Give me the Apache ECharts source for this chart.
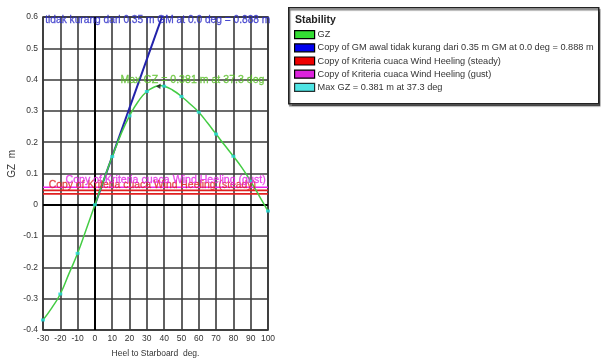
<!DOCTYPE html>
<html>
<head>
<meta charset="utf-8">
<script src="https://cdn.jsdelivr.net/npm/echarts@6/dist/echarts.min.js"></script>
<style>html,body{margin:0;padding:0;background:#fff;}#c{width:601px;height:363px;}</style>
</head>
<body>
<div id="c"></div>
<script>
// ---- data ----
var heel = [-30,-25,-20,-15,-10,-5,0,5,10,15,20,25,30,35,37.3,40,45,50,55,60,65,70,75,80,85,90,95,100];
var gz   = [-0.368,-0.33,-0.285,-0.22,-0.155,-0.078,0,0.078,0.154,0.225,0.284,0.33,0.362,0.378,0.381,0.379,0.366,0.346,0.322,0.296,0.262,0.226,0.19,0.155,0.118,0.075,0.028,-0.02];
var markerHeel = [-30,-20,-10,0,10,20,30,40,50,60,70,80,90,100];
var gmLineHeel = [0, 57.3];
var gmLineGz = [0, 0.888];
var heelRange = [-30, 100];
var steadyLevels = [0.046, 0.035];
var gustLevel = 0.056;
var maxGz = [37.3, 0.381];
var names = [
  'GZ',
  'Copy of GM awal tidak kurang dari 0.35 m GM at 0.0 deg = 0.888 m',
  'Copy of Kriteria cuaca Wind Heeling (steady)',
  'Copy of Kriteria cuaca Wind Heeling (gust)',
  'Max GZ = 0.381 m at 37.3 deg'
];
var gmText = 'tidak kurang dari 0.35 m GM at 0.0 deg = 0.888 m';
var xTicks = {min:-30, max:100, interval:10};
var yTicks = {min:-0.4, max:0.6, interval:0.1};

// ---- build ----
var font = 'Liberation Sans, Arial, sans-serif';
function pairs(xs, ys){ return xs.map(function(x,i){ return [x, ys[i]]; }); }
var gzData = pairs(heel, gz);
var markerData = markerHeel.map(function(h){ return [h, gz[heel.indexOf(h)]]; });
function hline(v){ return heelRange.map(function(h){ return [h, v]; }); }

function note(coord, text, color, size){
  return {value: coord, label:{show:true, position:'right', distance:0, formatter:text, color:color, fontSize:size, fontFamily:font,
    textBorderColor:color, textBorderWidth:0.3}};
}

var chart = echarts.init(document.getElementById('c'), null, {renderer:'canvas'});
chart.setOption({
  animation:false,
  backgroundColor:'#fff',
  grid:{left:43, right:333, top:17, bottom:30, show:true, borderColor:'#222', borderWidth:1.5, containLabel:false},
  xAxis:{type:'value', min:xTicks.min, max:xTicks.max, interval:xTicks.interval,
    name:'Heel to Starboard  deg.', nameLocation:'middle', nameGap:19,
    nameTextStyle:{fontSize:8.5, color:'#333', fontFamily:font},
    axisLine:{show:false}, axisTick:{show:false},
    axisLabel:{fontSize:8.5, color:'#333', margin:4, fontFamily:font},
    splitLine:{show:true, lineStyle:{color:'#3a3a3a', width:1.6}}},
  yAxis:{type:'value', min:yTicks.min, max:yTicks.max, interval:yTicks.interval,
    axisLine:{show:false}, axisTick:{show:false},
    axisLabel:{fontSize:8.5, color:'#333', margin:5, fontFamily:font,
      formatter:function(v){ return (Math.round(v*10)/10).toString(); }},
    splitLine:{show:true, lineStyle:{color:'#3a3a3a', width:1.6}}},
  legend:{orient:'vertical', left:294, top:30, padding:0, icon:'rect', itemWidth:20, itemHeight:8, itemGap:4,
    itemStyle:{borderColor:'#000', borderWidth:1.2},
    textStyle:{fontSize:9.2, color:'#333', fontFamily:font, padding:[0,0,0,-2]},
    selectedMode:false,
    data:[
      {name:names[0], itemStyle:{color:'#33dd33'}},
      {name:names[1], itemStyle:{color:'#0000ee'}},
      {name:names[2], itemStyle:{color:'#ee0000'}},
      {name:names[3], itemStyle:{color:'#dd22dd'}},
      {name:names[4], itemStyle:{color:'#22dddd'}}
    ]},
  graphic:[
    {type:'rect', left:288, top:7, z:-1, shape:{width:310, height:96},
      style:{fill:'#fff', stroke:'#222', lineWidth:1.5, shadowColor:'rgba(0,0,0,0.5)', shadowOffsetX:1, shadowOffsetY:2, shadowBlur:1}},
    {type:'text', left:295, top:15, style:{text:'Stability', font:'bold 10.5px '+font, fill:'#222'}},
    {type:'text', left:7, top:150, rotation:Math.PI/2, style:{text:'GZ  m', font:'10px '+font, fill:'#333'}}
  ],
  series:[
    {name:names[0], type:'line', data:gzData, showSymbol:false, smooth:true, z:5,
      lineStyle:{color:'#44cc44', width:1.5}, itemStyle:{color:'#44cc44'},
      markLine:{silent:true, symbol:'none', label:{show:false},
        lineStyle:{color:'#000', width:2, type:'solid'},
        data:[{xAxis:0},{yAxis:0}]}},
    {name:'GZ points', type:'scatter', data:markerData, symbol:'rect', symbolSize:[4,3], z:6,
      itemStyle:{color:'#22d8d8'}},
    {name:names[1], type:'line', data:pairs(gmLineHeel, gmLineGz), showSymbol:false, z:4, clip:true,
      lineStyle:{color:'#2222aa', width:2}},
    {name:names[2], type:'line', data:hline(steadyLevels[0]), showSymbol:false, z:3,
      lineStyle:{color:'#e02020', width:1.6}},
    {name:names[2]+' b', type:'line', data:hline(steadyLevels[1]), showSymbol:false, z:3,
      lineStyle:{color:'#e02020', width:1.6}},
    {name:names[3], type:'line', data:hline(gustLevel), showSymbol:false, z:3,
      lineStyle:{color:'#ee22ee', width:1.6}},
    {name:names[4], type:'scatter', data:[maxGz], symbol:'triangle', symbolSize:5, symbolRotate:-30, z:7,
      itemStyle:{color:'#111'}},
    {name:'notes', type:'scatter', symbolSize:1, z:8, silent:true, clip:false,
      itemStyle:{color:'rgba(255,255,255,0)'},
      labelLayout:{hideOverlap:false},
      data:[
        note([-29, 0.59], gmText, '#3030c8', 10.2),
        note([14.5, 0.40], names[4], '#5cc02c', 10.6),
        note([-27, 0.062], names[2], '#e02828', 10.4),
        note([-17.3, 0.078], names[3], '#e628e6', 10.6)
      ]}
  ]
});
</script>
</body>
</html>
